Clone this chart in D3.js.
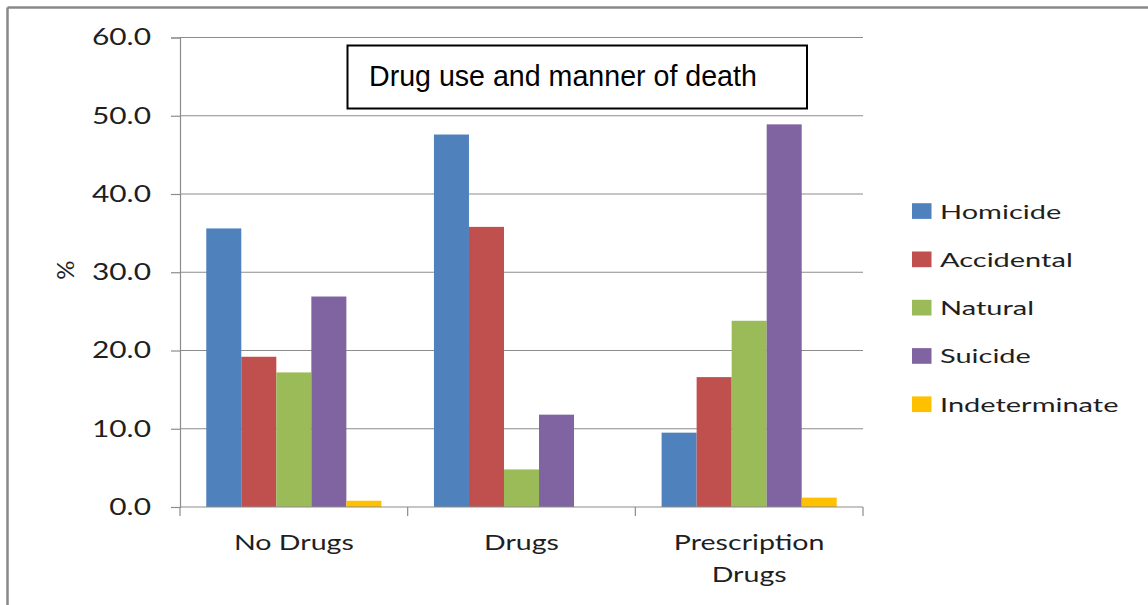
<!DOCTYPE html>
<html>
<head>
<meta charset="utf-8">
<script src="https://cdn.jsdelivr.net/npm/d3@7"></script>
<style>
  html, body { margin: 0; padding: 0; background: #fff; }
  svg { display: block; }
  .lbl { font-family: Lato, "Open Sans", sans-serif; fill: #1f1f1f; }
</style>
</head>
<body>
<svg id="chart" width="1148" height="605"></svg>
<script>
// Chart data
const categories = ["No Drugs", "Drugs", "Prescription Drugs"];
const categoryLines = [["No Drugs"], ["Drugs"], ["Prescription", "Drugs"]];
const seriesNames = ["Homicide", "Accidental", "Natural", "Suicide", "Indeterminate"];
const homicide = [35.6, 47.6, 9.5];
const accidental = [19.2, 35.8, 16.6];
const natural = [17.2, 4.8, 23.8];
const suicide = [26.9, 11.8, 48.9];
const indeterminate = [0.8, 0, 1.2];
const yTicks = [0, 10, 20, 30, 40, 50, 60];
const seriesColors = ["#4F81BD", "#C0504D", "#9BBB59", "#8064A2", "#FFC000"];
const titleText = "Drug use and manner of death";
const yLabel = "%";

const seriesValues = [homicide, accidental, natural, suicide, indeterminate];

const svg = d3.select("#chart");

// Outer frame (top and left edges)
svg.append("line").attr("x1", 7.5).attr("x2", 1148).attr("y1", 7.5).attr("y2", 7.5)
  .attr("stroke", "#888").attr("stroke-width", 2.5);
svg.append("line").attr("x1", 7.5).attr("x2", 7.5).attr("y1", 7.5).attr("y2", 605)
  .attr("stroke", "#888").attr("stroke-width", 2.5);

const plotLeft = 180, plotRight = 863, plotTop = 37.5, plotBottom = 507;

const x0 = d3.scaleBand().domain(categories).range([plotLeft, plotRight]).padding(0);
const x1 = d3.scaleBand().domain(seriesNames).range([0, x0.bandwidth()])
  .paddingInner(0).paddingOuter(0.75);
const y = d3.scaleLinear().domain([0, 60]).range([plotBottom, plotTop]);
const color = d3.scaleOrdinal().domain(seriesNames).range(seriesColors);

// Gridlines
svg.append("g").selectAll("line").data(yTicks.filter(t => t > 0)).join("line")
  .attr("x1", plotLeft).attr("x2", plotRight)
  .attr("y1", d => y(d)).attr("y2", d => y(d))
  .attr("stroke", "#8c8c8c").attr("stroke-width", 1.2);

// Y axis
const yAxis = svg.append("g").attr("transform", `translate(${plotLeft},0)`)
  .call(d3.axisLeft(y).tickValues(yTicks).tickFormat(d3.format(".1f")).tickSize(9).tickPadding(20));
yAxis.select(".domain").attr("stroke", "#8c8c8c").attr("stroke-width", 1.2);
yAxis.selectAll(".tick line").attr("stroke", "#8c8c8c").attr("stroke-width", 1.2);
yAxis.selectAll(".tick text")
  .attr("class", "lbl")
  .attr("x", 0)
  .attr("transform", "translate(-29,0) scale(1.3,1)")
  .style("font-size", "23px");

// Bars
const rows = categories.map((c, i) => ({ cat: c, vals: seriesNames.map((s, j) => ({ s, v: seriesValues[j][i] })) }));
svg.append("g").selectAll("g").data(rows).join("g")
  .attr("transform", d => `translate(${x0(d.cat)},0)`)
  .selectAll("rect").data(d => d.vals.filter(e => e.v > 0)).join("rect")
  .attr("x", d => x1(d.s))
  .attr("width", x1.bandwidth())
  .attr("y", d => y(d.v))
  .attr("height", d => y(0) - y(d.v))
  .attr("fill", d => color(d.s));

// X axis line and category boundary ticks
svg.append("line").attr("x1", plotLeft).attr("x2", plotRight)
  .attr("y1", plotBottom).attr("y2", plotBottom)
  .attr("stroke", "#8c8c8c").attr("stroke-width", 1.2);
const boundaries = categories.map(c => x0(c)).concat([x0(categories[categories.length - 1]) + x0.step()]);
svg.append("g").selectAll("line").data(boundaries).join("line")
  .attr("x1", d => d).attr("x2", d => d)
  .attr("y1", plotBottom).attr("y2", plotBottom + 9)
  .attr("stroke", "#8c8c8c").attr("stroke-width", 1.2);

// Category labels
categories.forEach((c, i) => {
  const cx = x0(c) + x0.bandwidth() / 2;
  categoryLines[i].forEach((line, k) => {
    svg.append("text").attr("class", "lbl")
      .attr("transform", `translate(${cx},${550 + k * 32}) scale(1.3,1)`)
      .attr("text-anchor", "middle")
      .style("font-size", "22px")
      .text(line);
  });
});

// Y axis title
svg.append("text").attr("class", "lbl")
  .attr("transform", "translate(74,270) rotate(-90)")
  .attr("text-anchor", "middle")
  .style("font-size", "24px")
  .text(yLabel);

// Legend
const legend = svg.append("g").selectAll("g").data(seriesNames).join("g")
  .attr("transform", (d, i) => `translate(912,${211 + i * 48.3})`);
legend.append("rect").attr("x", 0).attr("y", -7.8).attr("width", 19.5).attr("height", 15.7)
  .attr("fill", d => color(d));
legend.append("text").attr("class", "lbl")
  .attr("transform", "translate(28,7.5) scale(1.45,1)")
  .style("font-size", "20px")
  .text(d => d);

// Title box
svg.append("rect").attr("x", 347.5).attr("y", 45.5).attr("width", 459.5).attr("height", 63)
  .attr("fill", "#fff").attr("stroke", "#000").attr("stroke-width", 2);
svg.append("text").attr("x", 369).attr("y", 86)
  .style("font-family", '"Liberation Sans", Arial, sans-serif')
  .style("font-size", "28.6px").attr("fill", "#000")
  .text(titleText);
</script>
</body>
</html>
